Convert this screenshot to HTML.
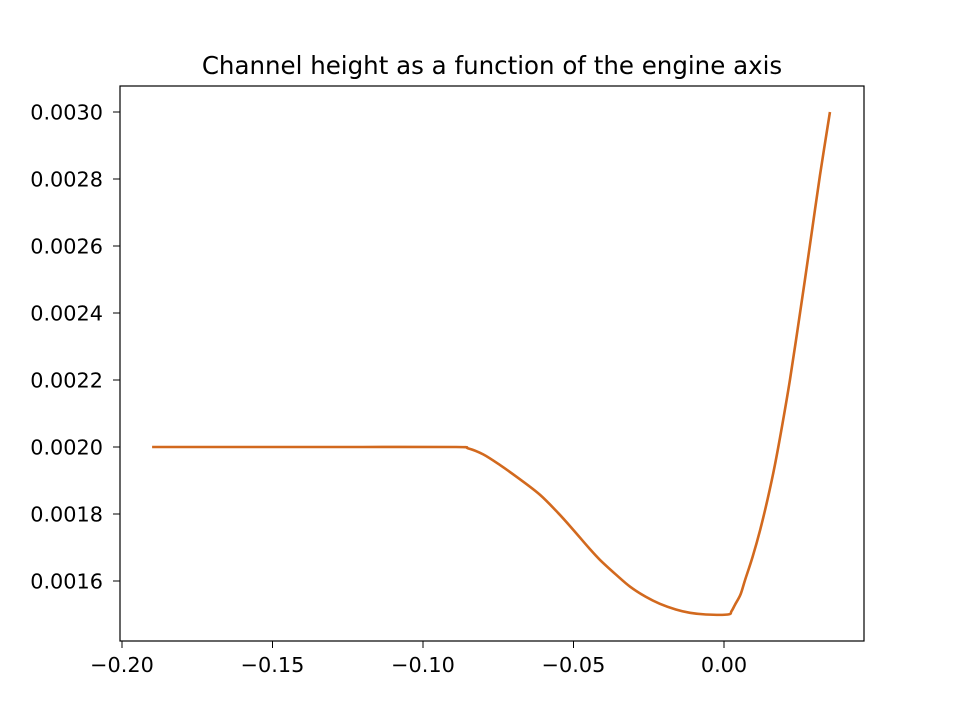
<!DOCTYPE html>
<html><head><meta charset="utf-8"><style>
body{margin:0;background:#fff}
text{font-family:"DejaVu Sans","Liberation Sans",sans-serif;fill:#000}
</style></head><body>
<svg id="chart" width="960" height="720" xmlns="http://www.w3.org/2000/svg">
<rect width="960" height="720" fill="#fff"/>
<text x="492" y="74" font-size="24.5" text-anchor="middle">Channel height as a function of the engine axis</text>
<g id="xticks"></g>
<g id="yticks"></g>
<g id="plot"></g>
<rect x="120" y="86" width="744" height="555" fill="none" stroke="#000" stroke-width="1.2"/>
</svg>
<script>
const xTicks=[-0.20,-0.15,-0.10,-0.05,0.00];
const xTickLabels=["\u22120.20","\u22120.15","\u22120.10","\u22120.05","0.00"];
const yTicks=[0.0016,0.0018,0.0020,0.0022,0.0024,0.0026,0.0028,0.0030];
const yTickLabels=["0.0016","0.0018","0.0020","0.0022","0.0024","0.0026","0.0028","0.0030"];
const xs=[-0.19,-0.15,-0.12,-0.089,-0.085,-0.08,-0.0744,-0.068,-0.0611,-0.055,-0.05,-0.045,-0.0412,-0.036,-0.0312,-0.026,-0.0213,-0.016,-0.0113,-0.006,0.0013,0.0025,0.0037,0.0055,0.007,0.0095,0.012,0.0145,0.0169,0.0194,0.0219,0.0244,0.0269,0.0294,0.0319,0.0352];
const ys=[0.002,0.002,0.002,0.002,0.001996,0.001978,0.001946,0.001905,0.001857,0.001802,0.001752,0.0017,0.001663,0.00162,0.001583,0.001553,0.001532,0.001515,0.001505,0.0015,0.0015,0.00151,0.00153,0.00156,0.001603,0.001672,0.001752,0.001845,0.001946,0.002068,0.0022,0.002348,0.0025,0.002656,0.002812,0.003];
const NS="http://www.w3.org/2000/svg";
const X=v=>724+(v/0.05)*150.5;
const Y=v=>447-(v-0.002)*335000;
const xg=document.getElementById('xticks'),yg=document.getElementById('yticks'),pg=document.getElementById('plot');
xTicks.forEach((t,i)=>{
 const l=document.createElementNS(NS,'line');
 
 
 l.setAttribute('x1',X(t));l.setAttribute('x2',X(t));l.setAttribute('y1',641);l.setAttribute('y2',648);l.setAttribute('stroke','#000');
 xg.appendChild(l);
 const tx=document.createElementNS(NS,'text');
 
 
 tx.setAttribute('x',X(t));tx.setAttribute('y',672);tx.setAttribute('font-size','20.8');tx.setAttribute('text-anchor','middle');
 tx.textContent=xTickLabels[i];xg.appendChild(tx);
});
yTicks.forEach((t,i)=>{
 const l=document.createElementNS(NS,'line');
 
 
 l.setAttribute('x1',113);l.setAttribute('x2',120);l.setAttribute('y1',Y(t));l.setAttribute('y2',Y(t));l.setAttribute('stroke','#000');
 yg.appendChild(l);
 const tx=document.createElementNS(NS,'text');
 
 
 tx.setAttribute('x',103);tx.setAttribute('y',Y(t)+7.5);tx.setAttribute('font-size','20.8');tx.setAttribute('text-anchor','end');
 tx.textContent=yTickLabels[i];yg.appendChild(tx);
});
// smooth via Catmull-Rom
const pts=xs.map((x,i)=>[X(x),Y(ys[i])]);
let d='M'+pts[0][0]+','+pts[0][1];
for(let i=0;i<pts.length-1;i++){
 const p0=pts[Math.max(0,i-1)],p1=pts[i],p2=pts[i+1],p3=pts[Math.min(pts.length-1,i+2)];
 const c1=[p1[0]+(p2[0]-p0[0])/6,p1[1]+(p2[1]-p0[1])/6];
 const c2=[p2[0]-(p3[0]-p1[0])/6,p2[1]-(p3[1]-p1[1])/6];
 d+=' C'+c1+' '+c2+' '+p2;
}
const p=document.createElementNS(NS,'path');


p.setAttribute('d',d);
p.setAttribute('fill','none');p.setAttribute('stroke','#d2691e');p.setAttribute('stroke-width','2.6');p.setAttribute('stroke-linejoin','round');
pg.appendChild(p);
</script>
</body></html>
